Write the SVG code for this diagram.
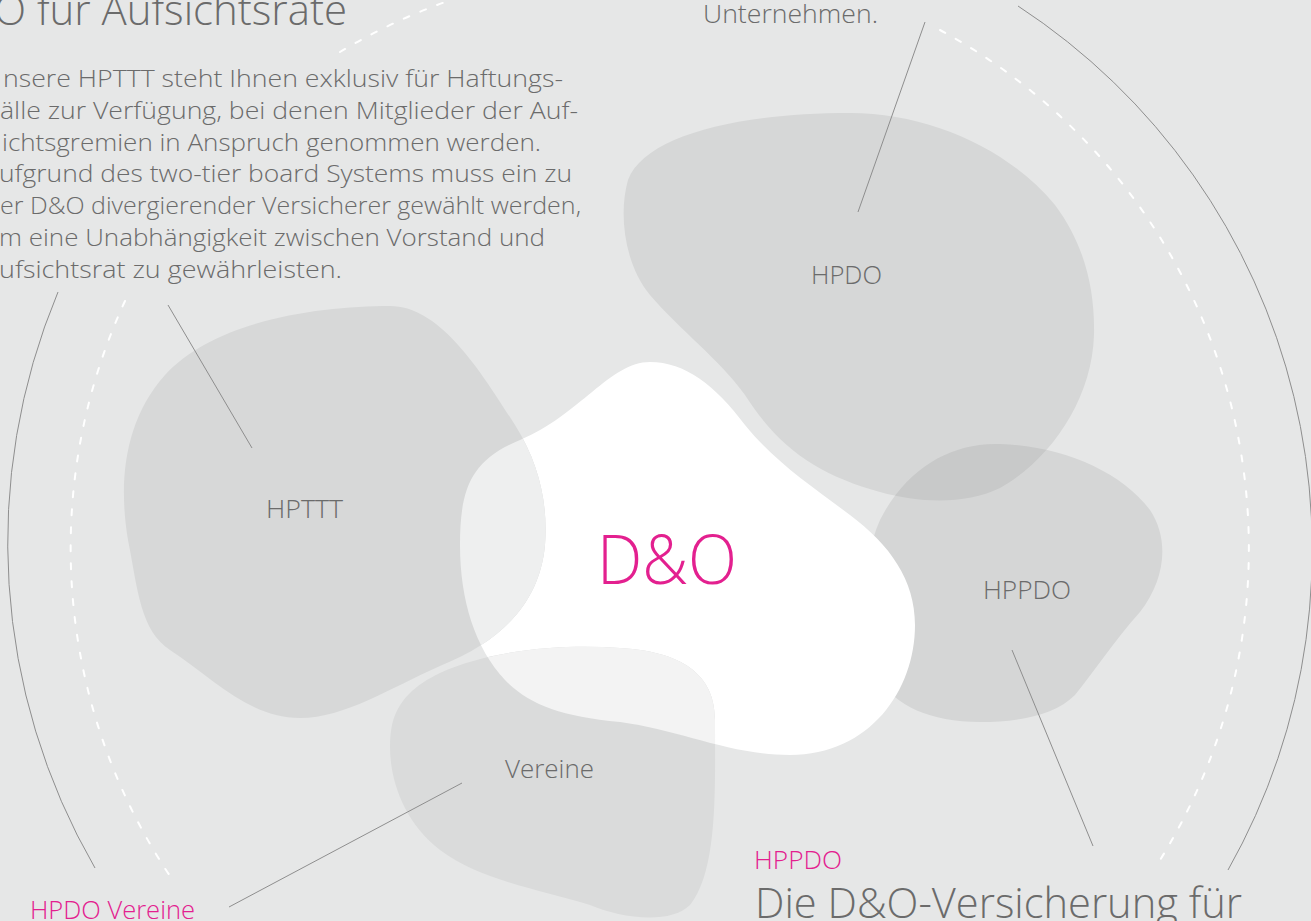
<svg xmlns="http://www.w3.org/2000/svg" xmlns:xlink="http://www.w3.org/1999/xlink" width="1311" height="921" viewBox="0 0 1311 921">
<style>
.txt{font-family:"Open Sans","Liberation Sans",sans-serif;font-weight:300;fill:#6b6b6b}
.mag{font-family:"Open Sans","Liberation Sans",sans-serif;font-weight:300;fill:#e3208f}
.lbl{font-size:26px}
.body{font-size:24px}
.big{font-size:42px}
.arc{fill:none;stroke:#8e8e8e;stroke-width:1}
.dash{fill:none;stroke:#ffffff;stroke-width:2;stroke-dasharray:6 12;stroke-linecap:round}
.lead{stroke:#8e8e8e;stroke-width:1;fill:none}
</style>
<defs>
<path id="p-hpdo" d="M 850 113 C 930 113, 1010 150, 1055 205 C 1085 245, 1095 290, 1094 335 C 1092 400, 1050 460, 1000 488 C 965 505, 920 503, 880 492 C 820 475, 780 450, 745 395 C 720 360, 680 330, 650 295 C 625 265, 618 215, 628 180 C 645 135, 740 113, 850 113 Z"/>
<path id="p-hppdo" d="M 1000 444 C 1060 446, 1120 470, 1150 510 C 1170 540, 1165 580, 1140 612 C 1115 640, 1095 670, 1075 695 C 1055 715, 1020 722, 980 722 C 930 722, 895 705, 880 680 C 862 640, 858 570, 880 520 C 905 470, 950 442, 1000 444 Z"/>
<path id="p-white" d="M 650 362 C 685 362, 715 385, 745 425 C 775 462, 810 485, 850 515 C 890 545, 915 580, 915 625 C 915 690, 870 755, 790 755 C 730 755, 680 730, 620 722 C 560 716, 530 705, 505 680 C 475 648, 460 600, 460 545 C 460 490, 470 460, 520 440 C 580 415, 610 362, 650 362 Z"/>
<path id="p-hpttt" d="M 390 306 C 440 306, 480 370, 515 425 C 540 465, 548 505, 545 545 C 540 600, 505 640, 440 666 C 390 688, 345 718, 300 718 C 250 718, 215 680, 170 650 C 140 630, 138 590, 128 540 C 118 480, 125 420, 165 375 C 215 320, 320 306, 390 306 Z"/>
<path id="p-vereine" d="M 440 673 C 490 650, 560 644, 620 648 C 690 652, 715 680, 715 720 C 715 790, 718 870, 690 905 C 670 925, 620 918, 590 905 C 540 890, 480 880, 440 850 C 395 815, 385 760, 392 725 C 398 700, 415 685, 440 673 Z"/>
<clipPath id="c-hpdo"><use xlink:href="#p-hpdo"/></clipPath>
<clipPath id="c-white"><use xlink:href="#p-white"/></clipPath>
</defs>
<rect x="0" y="0" width="1311" height="921" fill="#e6e7e7"/>

<g id="rings">
<path class="arc" d="M 1018 6 A 650 650 0 0 1 1228 870"/>
<path class="arc" d="M 58 292 A 650 650 0 0 0 95 868"/>
<path class="dash" d="M 940 30 A 590 590 0 0 1 1155 868"/>
<path class="dash" d="M 125 301 A 590 590 0 0 0 170 876"/>
<path class="dash" d="M 340 52 A 590 590 0 0 1 466 -5"/>
</g>

<g id="node-hpdo">
<use xlink:href="#p-hpdo" fill="#d6d7d7"/>
</g>
<g id="node-hppdo">
<use xlink:href="#p-hppdo" fill="#d5d6d6"/>
<use xlink:href="#p-hppdo" fill="#c8c9c9" clip-path="url(#c-hpdo)"/>
</g>
<g id="node-do">
<use xlink:href="#p-white" fill="#ffffff"/>
</g>
<g id="node-hpttt">
<use xlink:href="#p-hpttt" fill="#d7d8d8"/>
<use xlink:href="#p-hpttt" fill="#eeefef" clip-path="url(#c-white)"/>
</g>
<g id="node-vereine">
<use xlink:href="#p-vereine" fill="#dadbdb"/>
<use xlink:href="#p-vereine" fill="#f3f3f3" clip-path="url(#c-white)"/>
</g>

<g id="connectors">
<line class="lead" x1="925" y1="22" x2="858" y2="212"/>
<line class="lead" x1="168" y1="305" x2="252" y2="448"/>
<line class="lead" x1="229" y1="907" x2="462" y2="783"/>
<line class="lead" x1="1012" y1="650" x2="1093" y2="846"/>
</g>

<g id="labels">
<text class="txt lbl" x="266" y="518" textLength="77" lengthAdjust="spacingAndGlyphs">HPTTT</text>
<text class="txt lbl" x="811" y="284" textLength="71" lengthAdjust="spacingAndGlyphs">HPDO</text>
<text class="txt lbl" x="983" y="599" textLength="88" lengthAdjust="spacingAndGlyphs">HPPDO</text>
<text class="txt lbl" x="505" y="778" textLength="89" lengthAdjust="spacingAndGlyphs">Vereine</text>
<text class="mag" x="597" y="584" font-size="68" textLength="140" lengthAdjust="spacingAndGlyphs">D&amp;O</text>
</g>

<g id="texts">
<text class="txt big" x="-6" y="25" textLength="353" lengthAdjust="spacingAndGlyphs">O für Aufsichtsrate</text>
<text class="txt body" x="3" y="87" textLength="560" lengthAdjust="spacingAndGlyphs">nsere HPTTT steht Ihnen exklusiv für Haftungs-</text>
<text class="txt body" x="0" y="119" textLength="578" lengthAdjust="spacingAndGlyphs">älle zur Verfügung, bei denen Mitglieder der Auf-</text>
<text class="txt body" x="2" y="151" textLength="539" lengthAdjust="spacingAndGlyphs">ichtsgremien in Anspruch genommen werden.</text>
<text class="txt body" x="-1" y="182" textLength="573" lengthAdjust="spacingAndGlyphs">ufgrund des two-tier board Systems muss ein zu</text>
<text class="txt body" x="0" y="214" textLength="581" lengthAdjust="spacingAndGlyphs">er D&amp;O divergierender Versicherer gewählt werden,</text>
<text class="txt body" x="-1" y="246" textLength="546" lengthAdjust="spacingAndGlyphs">m eine Unabhängigkeit zwischen Vorstand und</text>
<text class="txt body" x="-1" y="278" textLength="343" lengthAdjust="spacingAndGlyphs">ufsichtsrat zu gewährleisten.</text>
<text class="txt lbl" x="703" y="23" textLength="175" lengthAdjust="spacingAndGlyphs">Unternehmen.</text>
<text class="mag lbl" x="30" y="919" textLength="165" lengthAdjust="spacingAndGlyphs">HPDO Vereine</text>
<text class="mag lbl" x="754" y="869" textLength="88" lengthAdjust="spacingAndGlyphs">HPPDO</text>
<text class="txt big" x="755" y="918" textLength="487" lengthAdjust="spacingAndGlyphs">Die D&amp;O-Versicherung für</text>
</g>
</svg>
